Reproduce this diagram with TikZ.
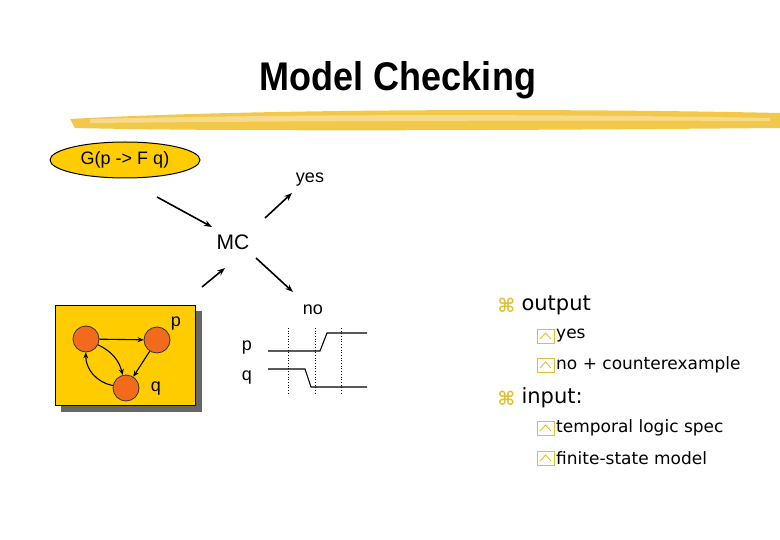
\documentclass[tikz,border=0pt]{standalone}
\usepackage{fontspec}
\setmainfont{Liberation Sans}
\newfontfamily\tah{DejaVu Sans}
\usetikzlibrary{arrows.meta,shapes.geometric}
\definecolor{gold}{HTML}{FFCC00}
\definecolor{brush}{HTML}{F0BE2A}
\definecolor{nodeor}{HTML}{F26B1D}
\definecolor{bul}{HTML}{E0C030}
\begin{document}
\begin{tikzpicture}[x=1pt,y=-1pt,
  arr/.style={-{Stealth[length=8pt,width=6pt]},line width=1.6pt},
  sarr/.style={-{Stealth[length=6pt,width=5pt]},line width=1.1pt},
  st/.style={circle,draw=black!80,line width=0.8pt,fill=nodeor,minimum size=26pt,inner sep=0pt},
  lbl/.style={font=\fontsize{18}{18}\selectfont},
  bigt/.style={font=\tah\fontsize{21}{21}\selectfont,anchor=west},
  smt/.style={font=\tah\fontsize{17}{17}\selectfont,anchor=west},
  wave/.style={line width=1.1pt},
  dots/.style={dotted,line width=0.7pt}]
\useasboundingbox (0,0) rectangle (780,540);
\node[font=\bfseries\fontsize{40}{40}\selectfont,xscale=0.9] (title) at (398,80) {Model Checking};
% brush stroke
\fill[brush!85] (70,119) .. controls (250,109) and (550,108) .. (780,113) -- (780,128) .. controls (550,130) and (250,132) .. (75,128) -- cycle;
\fill[brush!55!white] (90,119) .. controls (300,114) and (550,114) .. (770,118) -- (770,121) .. controls (550,120) and (300,121) .. (90,123) -- cycle;
% spec
\node[ellipse,draw=black,line width=1pt,fill=gold,minimum width=150pt,minimum height=36pt,lbl] (spec) at (125,160) {G(p -> F q)};
\node[lbl] (yes) at (310,180) {yes};
\node[font=\fontsize{21}{21}\selectfont] (mc) at (233,242) {MC};
\node[lbl] (no) at (313,310) {no};
\coordinate (s1) at (157,197); \coordinate (s2) at (212,227);
\coordinate (y1) at (265,218); \coordinate (y2) at (292,193);
\coordinate (m1) at (202,287); \coordinate (m2) at (225,268);
\coordinate (n1) at (256,258); \coordinate (n2) at (293,292);
\draw[arr] (s1) -- (s2);
\draw[arr] (y1) -- (y2);
\draw[arr] (m1) -- (m2);
\draw[arr] (n1) -- (n2);
% model box
\fill[black!60] (61,311) rectangle (202,412);
\draw[black,line width=0.8pt,fill=gold] (55,305) rectangle (195,405);
\node[st] (a) at (86,339) {};
\node[st] (b) at (157,340) {};
\node[st] (c) at (126,388) {};
\node[lbl] (pl) at (176,324) {p};
\node[lbl] (ql) at (156,389) {q};
\draw[sarr] (a) -- (b);
\draw[sarr] (b) -- (c);
\draw[sarr] (a) to[bend left=25] (c);
\draw[sarr] (c) to[bend left=40] (a);
% waveform
\node[lbl] (wp) at (247,348) {p};
\node[lbl] (wq) at (247,378) {q};
\coordinate (p0) at (268,351); \coordinate (p1) at (320,351); \coordinate (p2) at (327,333); \coordinate (p3) at (367,333);
\coordinate (q0) at (268,369); \coordinate (q1) at (305,369); \coordinate (q2) at (311,387); \coordinate (q3) at (367,387);
\draw[wave] (p0) -- (p1) -- (p2) -- (p3);
\draw[wave] (q0) -- (q1) -- (q2) -- (q3);
\coordinate (d1a) at (288,328); \coordinate (d1b) at (288,393);
\coordinate (d2a) at (315,328); \coordinate (d2b) at (315,393);
\coordinate (d3a) at (341,328); \coordinate (d3b) at (341,393);
\draw[dots] (d1a) -- (d1b); \draw[dots] (d2a) -- (d2b); \draw[dots] (d3a) -- (d3b);
% bullet text
\node[anchor=west,text=bul,font=\tah\bfseries\fontsize{19}{19}\selectfont] (b1) at (494,305) {⌘};
\node[bigt] (t1) at (518,305) {output};
\node[anchor=west,text=bul,font=\tah\bfseries\fontsize{19}{19}\selectfont] (b2) at (494,398) {⌘};
\node[bigt] (t2) at (518,398) {input:};
\foreach \n/\y/\t in {i1/336/yes,i2/365/no + counterexample,i3/428/temporal logic spec,i4/458/finite-state model}{
  \draw[bul,line width=0.9pt] (537,\y-7) rectangle (554,\y+7);
  \draw[bul,line width=0.9pt] (540,\y+3) -- (545.5,\y-3) -- (551,\y+3);
  \node[smt,inner sep=0pt] (\n) at (556,\y) {\t};
}
\end{tikzpicture}
\end{document}
